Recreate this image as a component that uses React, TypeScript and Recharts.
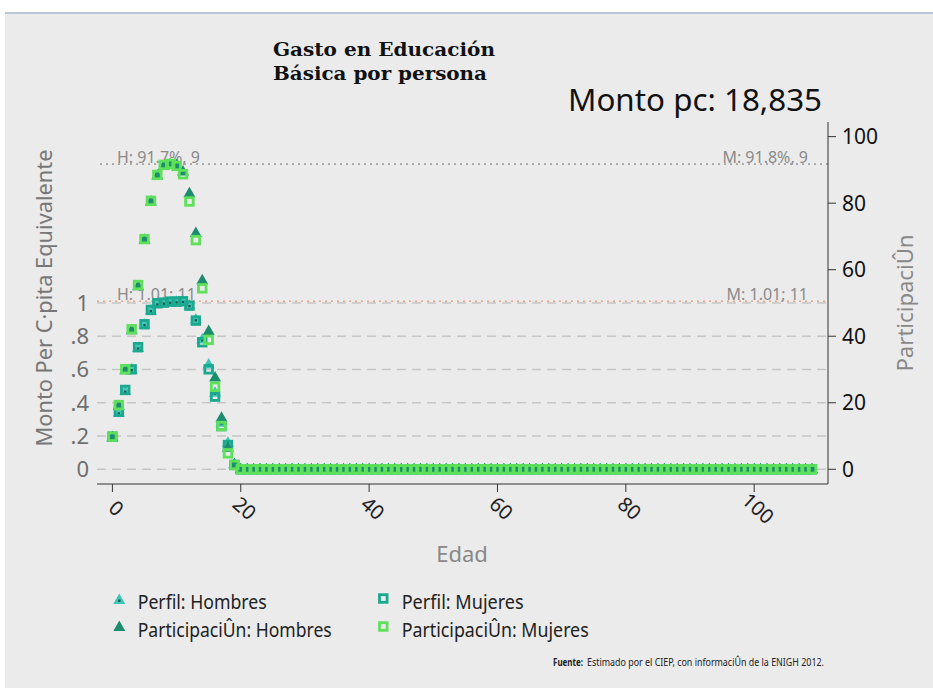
import React from 'react'
import {
  ComposedChart,
  Scatter,
  XAxis,
  YAxis,
  ReferenceLine
} from 'recharts'

// one value per age, Edad 0..109
const perfilHombres = [
  0.19, 0.34, 0.47, 0.6, 0.73, 0.87, 0.955, 0.995, 1.0, 1.005,
  1.008, 1.01, 0.985, 0.9, 0.78, 0.63, 0.46, 0.28, 0.16, 0.03,
  0, 0, 0, 0, 0, 0, 0, 0, 0, 0, 0, 0, 0, 0, 0, 0, 0, 0, 0, 0, 0, 0, 0, 0, 0, 0, 0, 0, 0, 0,
  0, 0, 0, 0, 0, 0, 0, 0, 0, 0, 0, 0, 0, 0, 0, 0, 0, 0, 0, 0, 0, 0, 0, 0, 0, 0, 0, 0, 0, 0,
  0, 0, 0, 0, 0, 0, 0, 0, 0, 0, 0, 0, 0, 0, 0, 0, 0, 0, 0, 0, 0, 0, 0, 0, 0, 0, 0, 0, 0, 0
]

const perfilMujeres = [
  0.196, 0.346, 0.477, 0.601, 0.734, 0.872, 0.958, 0.998, 1.002, 1.008,
  1.008, 1.01, 0.984, 0.894, 0.764, 0.601, 0.437, 0.26, 0.146, 0.026,
  0, 0, 0, 0, 0, 0, 0, 0, 0, 0, 0, 0, 0, 0, 0, 0, 0, 0, 0, 0, 0, 0, 0, 0, 0, 0, 0, 0, 0, 0,
  0, 0, 0, 0, 0, 0, 0, 0, 0, 0, 0, 0, 0, 0, 0, 0, 0, 0, 0, 0, 0, 0, 0, 0, 0, 0, 0, 0, 0, 0,
  0, 0, 0, 0, 0, 0, 0, 0, 0, 0, 0, 0, 0, 0, 0, 0, 0, 0, 0, 0, 0, 0, 0, 0, 0, 0, 0, 0, 0, 0
]

const partHombres = [
  9.6, 19.0, 29.8, 41.8, 55.0, 69.0, 80.5, 88.3, 91.2, 91.7,
  91.5, 89.5, 83.0, 71.0, 56.8, 41.6, 27.6, 15.5, 6.5, 1.5,
  0, 0, 0, 0, 0, 0, 0, 0, 0, 0, 0, 0, 0, 0, 0, 0, 0, 0, 0, 0, 0, 0, 0, 0, 0, 0, 0, 0, 0, 0,
  0, 0, 0, 0, 0, 0, 0, 0, 0, 0, 0, 0, 0, 0, 0, 0, 0, 0, 0, 0, 0, 0, 0, 0, 0, 0, 0, 0, 0, 0,
  0, 0, 0, 0, 0, 0, 0, 0, 0, 0, 0, 0, 0, 0, 0, 0, 0, 0, 0, 0, 0, 0, 0, 0, 0, 0, 0, 0, 0, 0
]

const partMujeres = [
  9.8, 19.3, 30.1, 42.1, 55.4, 69.2, 80.7, 88.5, 91.5, 91.8,
  91.2, 88.7, 80.5, 68.9, 54.4, 38.9, 24.8, 13.0, 4.8, 1.3,
  0, 0, 0, 0, 0, 0, 0, 0, 0, 0, 0, 0, 0, 0, 0, 0, 0, 0, 0, 0, 0, 0, 0, 0, 0, 0, 0, 0, 0, 0,
  0, 0, 0, 0, 0, 0, 0, 0, 0, 0, 0, 0, 0, 0, 0, 0, 0, 0, 0, 0, 0, 0, 0, 0, 0, 0, 0, 0, 0, 0,
  0, 0, 0, 0, 0, 0, 0, 0, 0, 0, 0, 0, 0, 0, 0, 0, 0, 0, 0, 0, 0, 0, 0, 0, 0, 0, 0, 0, 0, 0
]

const xTicks = [0, 20, 40, 60, 80, 100]
const leftTicks = [0, 0.2, 0.4, 0.6, 0.8, 1]
const rightTicks = [0, 20, 40, 60, 80, 100]

const FONT = '"Noto Sans", "Open Sans", sans-serif'
const C_PH = '#3fc6b8'
const C_PM = '#1aa88f'
const C_QH = '#1b8d6c'
const C_QM = '#5ee05a'
const DOT = '#1d5a4e'

const data = perfilHombres.map((v, i) => ({
  age: i,
  ph: v,
  pm: perfilMujeres[i],
  qh: partHombres[i],
  qm: partMujeres[i]
}))

const Triangle = ({ cx, cy, color, dot }: any) => (
  <g>
    <polygon points={`${cx},${cy - 6.5} ${cx - 6},${cy + 4} ${cx + 6},${cy + 4}`} fill={color} />
    {dot && <rect x={cx - 1.2} y={cy - 0.5} width={2.4} height={2.4} fill={DOT} />}
  </g>
)

const Square = ({ cx, cy, color }: any) => (
  <rect x={cx - 3.8} y={cy - 3.8} width={7.6} height={7.6} fill="none" stroke={color} strokeWidth={2.8} />
)

const XTick = (props: any) => {
  const { x, y, payload } = props
  const tx = x + 4
  const ty = y + 14
  return (
    <text x={tx} y={ty} transform={`rotate(42, ${tx}, ${ty})`} textAnchor="middle" dominantBaseline="central"
      fontSize={20} fill="#222" fontFamily={FONT}>
      {payload.value}
    </text>
  )
}

const RefLabel = (props: any) => {
  const { viewBox, text, side } = props
  const { x, y, width } = viewBox
  const left = side === 'left'
  return (
    <text x={left ? x + 20 : x + width - 20} y={y - 1} textAnchor={left ? 'start' : 'end'}
      fontSize={16} fill="#8a8a8a" fontFamily={FONT}>
      {text}
    </text>
  )
}

const leftFmt = (v: number) => (v === 0 ? '0' : v === 1 ? '1' : String(v).replace('0.', '.'))

export default function App() {
  return (
    <div style={{ position: 'absolute', left: 0, top: 0, width: 933, height: 688, background: '#fff', overflow: 'hidden' }}>
      <div style={{ position: 'absolute', left: 5, top: 12, width: 928, height: 676, background: '#ebebeb', borderTop: '2px solid #b9c8d6' }} />
      <div style={{ position: 'absolute', left: 0, top: 0 }}>
        <ComposedChart width={933} height={688} data={data} margin={{ top: 122, right: 0, bottom: 144, left: 0 }}>
          <XAxis dataKey="age" type="number" domain={[-2.4, 111.5]} ticks={xTicks} allowDataOverflow
            height={60} stroke="#333" tickSize={8} tick={<XTick />} />
          <YAxis yAxisId="l" orientation="left" type="number" domain={[-0.0884, 2.088]} ticks={leftTicks}
            allowDataOverflow width={97} axisLine={false} tickLine={false} tickFormatter={leftFmt}
            tick={{ fill: '#6e6e6e', fontSize: 22, fontFamily: FONT }} />
          <YAxis yAxisId="r" orientation="right" type="number" domain={[-4.42, 104.4]} ticks={rightTicks}
            allowDataOverflow width={105} stroke="#333" tickSize={8} tickMargin={6}
            tick={{ fill: '#111', fontSize: 21, fontFamily: FONT }} />
          {leftTicks.map((t) => (
            <ReferenceLine key={t} yAxisId="l" y={t} stroke="#c6c6c6" strokeWidth={1.5} strokeDasharray="9 6" />
          ))}
          <ReferenceLine yAxisId="r" y={91.7} stroke="#9a9a9a" strokeDasharray="2 4"
            label={<RefLabel text="H: 91.7%, 9" side="left" />} />
          <ReferenceLine yAxisId="r" y={91.8} stroke="#9a9a9a" strokeDasharray="2 4"
            label={<RefLabel text="M: 91.8%, 9" side="right" />} />
          <ReferenceLine yAxisId="l" y={1.01} stroke="#e9a07e" strokeDasharray="2 4"
            label={<RefLabel text="H: 1.01; 11" side="left" />} />
          <ReferenceLine yAxisId="l" y={1.011} stroke="#e9a07e" strokeDasharray="2 4"
            label={<RefLabel text="M: 1.01; 11" side="right" />} />
          <Scatter yAxisId="l" dataKey="ph" isAnimationActive={false}
            shape={(p: any) => <Triangle cx={p.cx} cy={p.cy} color={C_PH} dot />} />
          <Scatter yAxisId="l" dataKey="pm" isAnimationActive={false}
            shape={(p: any) => <Square cx={p.cx} cy={p.cy} color={C_PM} />} />
          <Scatter yAxisId="r" dataKey="qh" isAnimationActive={false}
            shape={(p: any) => <Triangle cx={p.cx} cy={p.cy} color={C_QH} />} />
          <Scatter yAxisId="r" dataKey="qm" isAnimationActive={false}
            shape={(p: any) => <Square cx={p.cx} cy={p.cy} color={C_QM} />} />
        </ComposedChart>
      </div>
      <svg width={933} height={688} style={{ position: 'absolute', left: 0, top: 0, pointerEvents: 'none' }}>
        <g fontFamily='"DejaVu Serif", serif' fontWeight="bold" fill="#111" fontSize={19}>
          <text x={273} y={56} textLength={222} lengthAdjust="spacingAndGlyphs">Gasto en Educación</text>
          <text x={273} y={80} textLength={214} lengthAdjust="spacingAndGlyphs">Básica por persona</text>
        </g>
        <text x={568} y={111} fontSize={30} fill="#111" fontFamily={FONT} textLength={254} lengthAdjust="spacingAndGlyphs">
          Monto pc: 18,835
        </text>
        <text x={44} y={298} transform="rotate(-90, 44, 298)" textAnchor="middle" dominantBaseline="central"
          fontSize={21} fill="#777" fontFamily={FONT} textLength={297} lengthAdjust="spacingAndGlyphs">
          Monto Per C·pita Equivalente
        </text>
        <text x={905} y={303} transform="rotate(-90, 905, 303)" textAnchor="middle" dominantBaseline="central"
          fontSize={21} fill="#888" fontFamily={FONT} textLength={137} lengthAdjust="spacingAndGlyphs">
          ParticipaciÛn
        </text>
        <text x={462} y={553} textAnchor="middle" dominantBaseline="central" fontSize={22} fill="#888" fontFamily={FONT}>
          Edad
        </text>
        <g fontFamily={FONT} fontSize={19} fill="#222">
          <Triangle cx={119.3} cy={600} color={C_PH} dot />
          <text x={137.7} y={609} textLength={129} lengthAdjust="spacingAndGlyphs">Perfil: Hombres</text>
          <Square cx={383.3} cy={598.5} color={C_PM} />
          <text x={401.7} y={609} textLength={122} lengthAdjust="spacingAndGlyphs">Perfil: Mujeres</text>
          <Triangle cx={119.3} cy={627} color={C_QH} />
          <text x={137.7} y={637} textLength={194} lengthAdjust="spacingAndGlyphs">ParticipaciÛn: Hombres</text>
          <Square cx={383.3} cy={626.5} color={C_QM} />
          <text x={401.7} y={637} textLength={187} lengthAdjust="spacingAndGlyphs">ParticipaciÛn: Mujeres</text>
        </g>
        <g fontSize={10} fill="#222" fontFamily={FONT}>
          <text x={553} y={666} fontWeight="bold" textLength={30} lengthAdjust="spacingAndGlyphs">Fuente:</text>
          <text x={587} y={666} textLength={237} lengthAdjust="spacingAndGlyphs">
            Estimado por el CIEP, con informaciÛn de la ENIGH 2012.
          </text>
        </g>
      </svg>
    </div>
  )
}
